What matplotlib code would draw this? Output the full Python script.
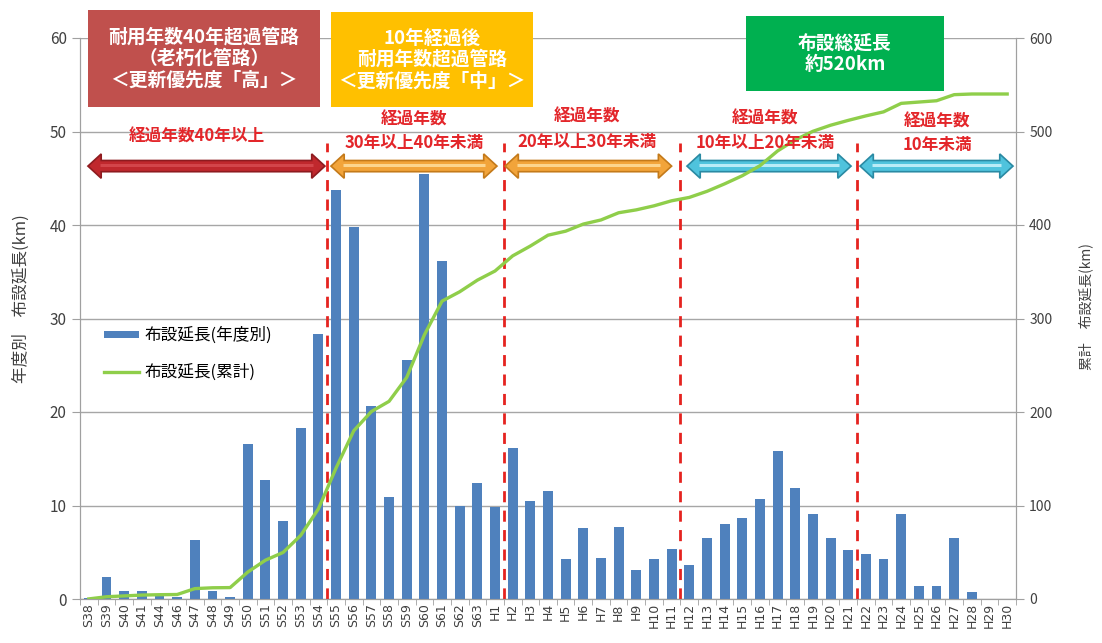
import matplotlib
matplotlib.use("Agg")
import matplotlib.pyplot as plt
from matplotlib.patches import Polygon, Rectangle
from matplotlib.lines import Line2D
import numpy as np

plt.rcParams['font.family'] = ['Noto Sans CJK JP', 'DejaVu Sans']

categories = ["S38", "S39", "S40", "S41", "S44", "S46", "S47", "S48", "S49",
              "S50", "S51", "S52", "S53", "S54", "S55", "S56", "S57", "S58",
              "S59", "S60", "S61", "S62", "S63"] + [f"H{i}" for i in range(1, 31)]

annual_km = [0.1, 2.3, 0.9, 0.9, 0.4, 0.2, 6.3, 0.9, 0.2,
             16.6, 12.7, 8.3, 18.3, 28.3, 43.7, 39.8, 20.6, 10.9,
             25.6, 45.5, 36.1, 10.0, 12.4,
             9.8, 16.2, 10.5, 11.6, 4.3, 7.6, 4.4, 7.7, 3.1, 4.3,
             5.4, 3.6, 6.5, 8.0, 8.7, 10.7, 15.8, 11.9, 9.1, 6.5,
             5.2, 4.8, 4.3, 9.1, 1.4, 1.4, 6.5, 0.7, 0.0, 0.0]

cumulative_km = [0.1, 2.4, 3.3, 4.2, 4.6, 4.8, 11.1, 12.0, 12.2,
                 28.8, 41.5, 49.8, 68.1, 96.4, 140.1, 179.9, 200.5, 211.4,
                 237.0, 282.5, 318.6, 328.6, 341.0,
                 350.8, 367.0, 377.5, 389.1, 393.4, 401.0, 405.4, 413.1, 416.2, 420.5,
                 425.9, 429.5, 436.0, 444.0, 452.7, 463.4, 479.2, 491.1, 500.2, 506.7,
                 511.9, 516.7, 521.0, 530.1, 531.5, 532.9, 539.4, 540.1, 540.1, 540.1]

legend_labels = ["布設延長(年度別)", "布設延長(累計)"]

W, H = 1102, 643
fig = plt.figure(figsize=(W / 100, H / 100), dpi=100)
L, R, B, T = 80, 1016, 599, 38
ax = fig.add_axes([L / W, 1 - B / H, (R - L) / W, (B - T) / H])
ax2 = ax.twinx()

x = np.arange(len(categories))
ax.bar(x, annual_km, width=0.56, color="#4f81bd", zorder=3)
ax2.plot(x, cumulative_km, color="#8fce4a", lw=2.4, zorder=5)

ax.set_xlim(-0.5, len(categories) - 0.5)
ax.set_ylim(0, 60)
ax2.set_ylim(0, 600)
ax.set_yticks(range(0, 61, 10))
ax2.set_yticks(range(0, 601, 100))
ax.set_xticks(x)
ax.set_xticklabels(categories, rotation=90, fontsize=9, color="#404040",
                   family=['DejaVu Sans'])
ax.set_xticks(np.arange(-0.5, len(categories), 1), minor=True)
ax.tick_params(axis='x', which='major', length=0, pad=3)
ax.tick_params(axis='x', which='minor', length=4, color="#a0a0a0")
ax.tick_params(axis='y', length=6, color="#a0a0a0", labelsize=11, labelcolor="#404040")
ax2.tick_params(axis='y', length=6, color="#a0a0a0", labelsize=10, labelcolor="#404040")
for a in (ax, ax2):
    a.spines['top'].set_visible(False)
    for s in ('left', 'right', 'bottom'):
        a.spines[s].set_color("#a0a0a0")
ax.yaxis.grid(True, color="#a6a6a6", lw=1, zorder=0)
ax.set_axisbelow(True)
ax2.set_zorder(ax.get_zorder() + 1)
ax2.patch.set_visible(False)

ax.set_ylabel("年度別\u3000布設延長(km)", fontsize=12, color="#404040")
ax.yaxis.label.set_verticalalignment('center')
ax.yaxis.set_label_coords((21 - L) / (R - L), 1 - (299 - T) / (B - T))
ax2.set_ylabel("累計\u3000布設延長(km)", fontsize=10, color="#404040", rotation=90)
ax2.yaxis.label.set_verticalalignment('center')
ax2.yaxis.set_label_coords((1086 - L) / (R - L), 1 - (307 - T) / (B - T))

# dashed separators
for bx in [13.5, 23.5, 33.5, 43.5]:
    ax.plot([bx, bx], [0, 48.8], color="#e5231f", lw=2, dashes=(4, 3), zorder=6,
            clip_on=False)

def double_arrow(x0, x1, y, face, edge, hi):
    sh, hh, hl = 0.6, 1.3, 0.75
    pts = [(x0, y), (x0 + hl, y + hh), (x0 + hl, y + sh), (x1 - hl, y + sh),
           (x1 - hl, y + hh), (x1, y), (x1 - hl, y - hh), (x1 - hl, y - sh),
           (x0 + hl, y - sh), (x0 + hl, y - hh)]
    ax.add_patch(Polygon(pts, closed=True, facecolor=face, edgecolor=edge, lw=1.2,
                         zorder=7, clip_on=False))
    ax.plot([x0 + hl * 0.9, x1 - hl * 0.9], [y + 0.12, y + 0.12], color=hi, lw=2.2,
            zorder=8, solid_capstyle='butt', clip_on=False)

ay = 46.3
double_arrow(-0.05, 13.37, ay, "#c0282d", "#8e1b1f", "#d3454a")
double_arrow(13.71, 23.11, ay, "#f2a43a", "#c47a1a", "#fcd58e")
double_arrow(23.57, 33.0, ay, "#f2a43a", "#c47a1a", "#fcd58e")
double_arrow(33.87, 43.16, ay, "#4fc3dd", "#2a8aa3", "#b9ecf7")
double_arrow(43.67, 52.33, ay, "#4fc3dd", "#2a8aa3", "#b9ecf7")

def ftext(px, py, s, **kw):
    fig.text(px / W, 1 - py / H, s, ha='center', va='center', **kw)

red = "#e3262a"
lab = dict(fontsize=12, color=red, fontweight='bold')
ftext(197, 137, "経過年数40年以上", **lab)
ftext(414, 120, "経過年数", **lab)
ftext(414, 143, "30年以上40年未満", **lab)
ftext(587, 117, "経過年数", **lab)
ftext(587, 142, "20年以上30年未満", **lab)
ftext(765, 119, "経過年数", **lab)
ftext(765, 143, "10年以上20年未満", **lab)
ftext(937, 122, "経過年数", **lab)
ftext(937, 145, "10年未満", **lab)

def fbox(x0, y0, x1, y1, color, text, fs):
    fig.patches.append(Rectangle((x0 / W, 1 - y1 / H), (x1 - x0) / W, (y1 - y0) / H,
                                 transform=fig.transFigure, facecolor=color,
                                 edgecolor='none', zorder=10))
    fig.text((x0 + x1) / 2 / W, 1 - (y0 + y1) / 2 / H, text, ha='center', va='center',
             color='white', fontsize=fs, fontweight='bold', linespacing=1.15, zorder=11)

fbox(88, 10, 320, 107, "#c0504d", "耐用年数40年超過管路\n（老朽化管路）\n＜更新優先度「高」＞", 13.5)
fbox(331, 12, 533, 107, "#ffc000", "10年経過後\n耐用年数超過管路\n＜更新優先度「中」＞", 13.5)
fbox(746, 16, 944, 91, "#00b050", "布設総延長\n約520km", 13.5)

handles = [Rectangle((0, 0), 1, 1, facecolor="#4f81bd"),
           Line2D([0], [0], color="#8fce4a", lw=2.4)]
leg = fig.legend(handles, legend_labels, loc='upper left',
                 bbox_to_anchor=(104 / W, 1 - 327 / H), frameon=False, fontsize=12,
                 handlelength=2.1, handleheight=0.3, handletextpad=0.35,
                 labelspacing=1.15, borderpad=0, borderaxespad=0)

fig.savefig("out.png", dpi=100)
